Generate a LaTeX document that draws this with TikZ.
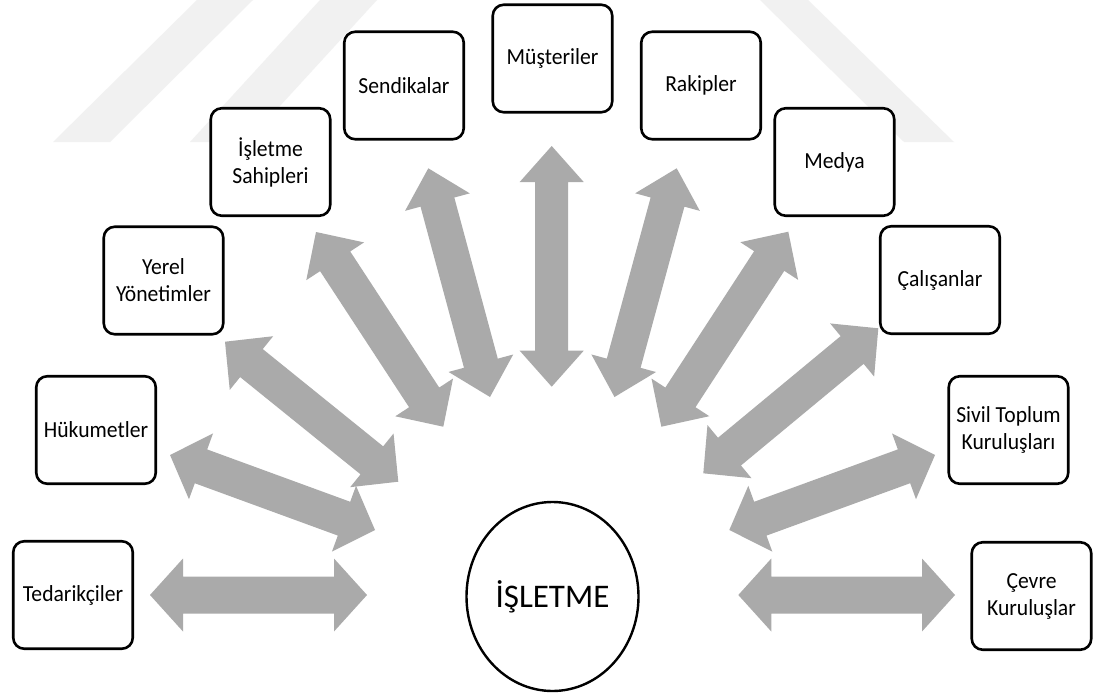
\documentclass[tikz,border=0pt]{standalone}
\usepackage{fontspec}
\setmainfont{Carlito}[FakeStretch=0.94]
\newfontfamily\hubfont{Carlito}
\usetikzlibrary{calc,shapes.geometric}
\definecolor{arrowgray}{RGB}{170,170,170}
\definecolor{markgray}{RGB}{241,241,241}

% Block arrow with a head at each end:
% #1 one tip, #2 other tip, #3 half shaft width, #4 half head width, #5 head length
\newcommand\twoheadblock[5]{%
  \fill[arrowgray] (#1)
    -- ($(#1)!#5!(#2)!#4!90:(#2)$)
    -- ($(#1)!#5!(#2)!#3!90:(#2)$)
    -- ($(#2)!#5!(#1)!#3!-90:(#1)$)
    -- ($(#2)!#5!(#1)!#4!-90:(#1)$)
    -- (#2)
    -- ($(#2)!#5!(#1)!#4!90:(#1)$)
    -- ($(#2)!#5!(#1)!#3!90:(#1)$)
    -- ($(#1)!#5!(#2)!#3!-90:(#2)$)
    -- ($(#1)!#5!(#2)!#4!-90:(#2)$)
    -- cycle;}

\begin{document}
\begin{tikzpicture}[x=1pt,y=-1pt,
  stake/.style={draw=black, line width=2.6pt, rounded corners=11pt, fill=white,
    minimum width=119.5pt, minimum height=107.5pt, inner sep=0pt, align=center,
    font=\fontsize{23}{27}\selectfont},
  hub/.style={draw=black, line width=2.4pt, ellipse, fill=white,
    minimum width=172pt, minimum height=189pt, inner sep=0pt,
    font=\hubfont\fontsize{33}{36}\selectfont}]

\fill[white] (0,0) rectangle (1097,696);
\useasboundingbox (0,0) rectangle (1097,696);

% faint stripes in the background
\fill[markgray] (53,142) -- (110,142) -- (253,0) -- (197,0) -- cycle;
\fill[markgray] (190,142) -- (247,142) -- (377,0) -- (320,0) -- cycle;
\fill[markgray] (760,0) -- (808,0) -- (954,142) -- (904,142) -- cycle;

% arrow tips
\coordinate (a1o) at (150,595);     \coordinate (a1i) at (367,595);
\coordinate (a2o) at (170,455);     \coordinate (a2i) at (375,530);
\coordinate (a3o) at (225,341.7);   \coordinate (a3i) at (398.3,481.7);
\coordinate (a4o) at (316,232);     \coordinate (a4i) at (443.3,426.7);
\coordinate (a5o) at (428.3,168.3); \coordinate (a5i) at (490,397);
\coordinate (a6o) at (551.7,146);   \coordinate (a6i) at (551.7,386.7);
\coordinate (a7o) at (676.7,168.3); \coordinate (a7i) at (614.5,397);
\coordinate (a8o) at (788.3,231.7); \coordinate (a8i) at (661.3,426.7);
\coordinate (a9o) at (878.3,328.3); \coordinate (a9i) at (703.3,473.3);
\coordinate (a10o) at (935,455);    \coordinate (a10i) at (729.3,530);
\coordinate (a11o) at (955,595);    \coordinate (a11i) at (738.3,595);

\twoheadblock{a1o}{a1i}{18.5pt}{36.5pt}{33pt}
\twoheadblock{a2o}{a2i}{18pt}{35pt}{33pt}
\twoheadblock{a3o}{a3i}{18pt}{34.5pt}{34pt}
\twoheadblock{a4o}{a4i}{18pt}{34.5pt}{35pt}
\twoheadblock{a5o}{a5i}{17.5pt}{33.5pt}{35pt}
\twoheadblock{a6o}{a6i}{16.5pt}{32pt}{36pt}
\twoheadblock{a7o}{a7i}{17.5pt}{33.5pt}{35pt}
\twoheadblock{a8o}{a8i}{18pt}{34.5pt}{35pt}
\twoheadblock{a9o}{a9i}{18pt}{34.5pt}{34pt}
\twoheadblock{a10o}{a10i}{18pt}{35pt}{33pt}
\twoheadblock{a11o}{a11i}{18.5pt}{36.5pt}{33pt}

% stakeholders
\node[stake] (ted)   at (73,595)     {Tedarikçiler};
\node[stake] (huk)   at (96,430)     {Hükumetler};
\node[stake] (yerel) at (163.5,280.5) {Yerel\\Yönetimler};
\node[stake] (sahip) at (270.5,162)  {İşletme\\Sahipleri};
\node[stake] (send)  at (404,85.5)   {Sendikalar};
\node[stake] (must)  at (552.5,58.5) {Müşteriler};
\node[stake] (rak)   at (701,85.5)   {Rakipler};
\node[stake] (medya) at (834.5,162)  {Medya};
\node[stake] (cal)   at (940,280)    {Çalışanlar};
\node[stake] (stk)   at (1008.5,430) {Sivil Toplum\\Kuruluşları};
\node[stake] (cevre) at (1031.5,596) {Çevre\\Kuruluşlar};

% the firm
\node[hub] (isletme) at (552.5,596.5) {İŞLETME};
\end{tikzpicture}
\end{document}
